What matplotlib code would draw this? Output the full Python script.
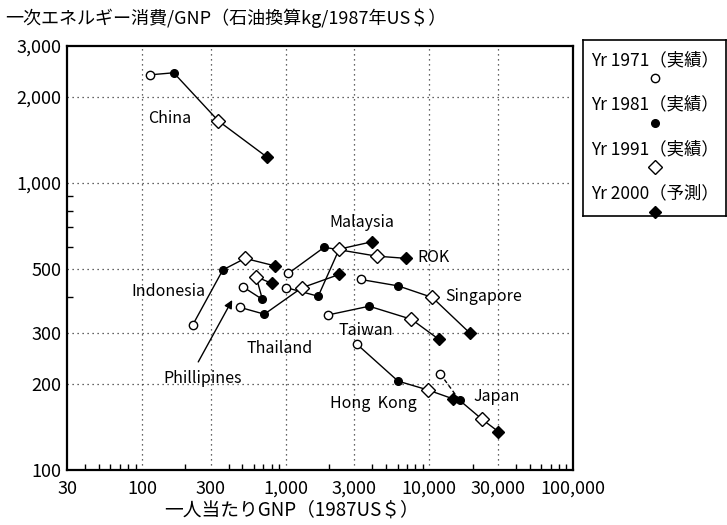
import matplotlib
matplotlib.use("Agg")
import matplotlib.pyplot as plt
from matplotlib.ticker import FixedLocator, NullFormatter

plt.rcParams['font.family'] = ['Noto Sans CJK JP', 'DejaVu Sans']

# 国・地域ごとの推移（1971, 1981, 1991 実績, 2000 予測）
countries = ["China", "Indonesia", "Phillipines", "Thailand", "Malaysia",
             "ROK", "Singapore", "Taiwan", "Hong Kong", "Japan"]

gnp_1971 = [113, 225, 502, 477, 1004, 1042, 3334, 1977, 3112, 11920]
int_1971 = [2380, 320, 435, 369, 432, 484, 461, 347, 275, 216]
gnp_1981 = [166, 365, 688, 710, 1683, 1854, 6054, 3810, 6054, 16220]
int_1981 = [2420, 498, 393, 349, 403, 597, 438, 372, 204, 175]
gnp_1991 = [340, 521, 622, 1291, 2355, 4285, 10490, 7500, 9780, 23330]
int_1991 = [1644, 546, 471, 431, 588, 556, 399, 335, 190, 150]
gnp_2000 = [741, 843, 800, 2355, 3990, 6920, 19270, 11670, 14590, 30270]
int_2000 = [1230, 514, 447, 480, 624, 546, 299, 285, 177, 136]

x_ticks = [30, 100, 300, 1000, 3000, 10000, 30000, 100000]
x_ticklabels = ["30", "100", "300", "1,000", "3,000", "10,000", "30,000", "100,000"]
y_ticks = [100, 200, 300, 500, 1000, 2000, 3000]
y_ticklabels = ["100", "200", "300", "500", "1,000", "2,000", "3,000"]

fig = plt.figure(figsize=(7.27, 5.25), dpi=100)
ax = fig.add_axes([67 / 727, 1 - 470 / 525, (573 - 67) / 727, (470 - 46) / 525])
ax.set_xscale("log")
ax.set_yscale("log")
ax.set_xlim(30, 100000)
ax.set_ylim(100, 3000)

# 点線のグリッド
for gx in x_ticks[1:-1]:
    ax.axvline(gx, color="#333333", lw=0.9, ls=(0, (1, 3)), zorder=1)
for gy in [200, 300, 500, 1000, 2000]:
    ax.axhline(gy, color="#333333", lw=0.9, ls=(0, (1, 3)), zorder=1)

line_kw = dict(color="black", lw=1.0, zorder=2)
for i, name in enumerate(countries):
    xs = [gnp_1971[i], gnp_1981[i], gnp_1991[i], gnp_2000[i]]
    ys = [int_1971[i], int_1981[i], int_1991[i], int_2000[i]]
    if name == "Japan":
        ax.plot(xs[:2], ys[:2], ls=(0, (3, 2)), **line_kw)
        ax.plot(xs[1:], ys[1:], **line_kw)
    else:
        ax.plot(xs, ys, **line_kw)

ax.plot(gnp_1971, int_1971, "o", ms=6, mfc="white", mec="black", mew=1.0, ls="none", zorder=3)
ax.plot(gnp_1981, int_1981, "o", ms=5.5, mfc="black", mec="black", ls="none", zorder=3)
ax.plot(gnp_1991, int_1991, "D", ms=7, mfc="white", mec="black", mew=1.0, ls="none", zorder=3)
ax.plot(gnp_2000, int_2000, "D", ms=6.5, mfc="black", mec="black", ls="none", zorder=4)

# 国名ラベル
fs = 11.5
ax.text(155, 1680, "China", ha="center", va="center", fontsize=fs)
ax.text(276, 417, "Indonesia", ha="right", va="center", fontsize=fs)
ax.text(262, 209, "Phillipines", ha="center", va="center", fontsize=fs)
ax.text(912, 266, "Thailand", ha="center", va="center", fontsize=fs)
ax.text(3390, 731, "Malaysia", ha="center", va="center", fontsize=fs)
ax.text(8300, 552, "ROK", ha="left", va="center", fontsize=fs)
ax.text(12970, 403, "Singapore", ha="left", va="center", fontsize=fs)
ax.text(3614, 307, "Taiwan", ha="center", va="center", fontsize=fs)
ax.text(4100, 171, "Hong  Kong", ha="center", va="center", fontsize=fs)
ax.text(29300, 180, "Japan", ha="center", va="center", fontsize=fs)
ax.annotate("", xy=(424, 391), xytext=(246, 238),
            arrowprops=dict(arrowstyle="-|>", color="black", lw=1.0,
                            mutation_scale=12, shrinkA=0, shrinkB=0))

# 目盛り
ax.xaxis.set_major_locator(FixedLocator(x_ticks))
ax.set_xticklabels(x_ticklabels, fontsize=13)
ax.yaxis.set_major_locator(FixedLocator(y_ticks))
ax.set_yticklabels(y_ticklabels, fontsize=13)
ax.xaxis.set_minor_locator(FixedLocator(
    [40, 50, 60, 70, 80, 90, 200, 400, 500, 600, 700, 800, 900, 2000,
     4000, 5000, 6000, 7000, 8000, 9000, 20000,
     40000, 50000, 60000, 70000, 80000, 90000]))
ax.yaxis.set_minor_locator(FixedLocator([400, 600, 700, 800, 900]))
ax.xaxis.set_minor_formatter(NullFormatter())
ax.yaxis.set_minor_formatter(NullFormatter())
ax.tick_params(which="major", length=0)
ax.tick_params(axis="x", which="major", pad=7)
ax.tick_params(axis="y", which="major", pad=4)
ax.tick_params(which="minor", direction="in", length=4, width=1.0)
for sp in ax.spines.values():
    sp.set_linewidth(1.6)

fig.text(5 / 727, 1 - 18 / 525, "一次エネルギー消費/GNP（石油換算kg/1987年US＄）",
         ha="left", va="center", fontsize=13)
fig.text(292 / 727, 1 - 510 / 525, "一人当たりGNP（1987US＄）",
         ha="center", va="center", fontsize=13.5)

# 凡例
lg = fig.add_axes([583 / 727, 1 - 216 / 525, (726 - 583) / 727, (216 - 40) / 525])
lg.set_xticks([])
lg.set_yticks([])
for sp in lg.spines.values():
    sp.set_linewidth(1.2)
entries = [("Yr 1971（実績）", "o", "white", 6),
           ("Yr 1981（実績）", "o", "black", 5.5),
           ("Yr 1991（実績）", "D", "white", 7),
           ("Yr 2000（予測）", "D", "black", 6.5)]
for k, (label, mk, fc, ms) in enumerate(entries):
    ty = 1 - (60 - 40 + k * 44.5) / 176
    my = 1 - (78 - 40 + k * 44.5) / 176
    lg.text(8 / 143, ty, label, ha="left", va="center", fontsize=12.5,
            transform=lg.transAxes)
    lg.plot([72 / 143], [my], mk, ms=ms, mfc=fc, mec="black", mew=1.0,
            transform=lg.transAxes, clip_on=False)
lg.set_xlim(0, 1)
lg.set_ylim(0, 1)

fig.savefig("out.png", dpi=100)
